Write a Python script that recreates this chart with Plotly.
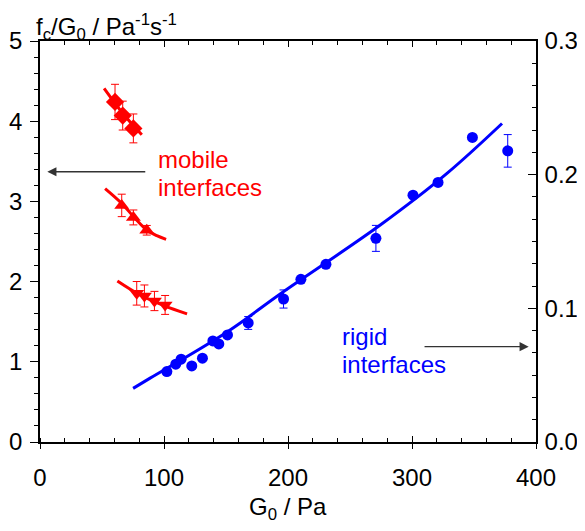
import plotly.graph_objects as go

# ---- data ----
# mobile interfaces (left axis), three series
dia_x = [60.5, 66.7, 75.3]
dia_y = [4.24, 4.07, 3.91]
dia_err = [0.22, 0.18, 0.18]
dia_fit_x = [51.7, 66.7, 82.1]
dia_fit_y = [4.41, 4.10, 3.83]

up_x = [65.9, 75.3, 86.1]
up_y = [2.95, 2.80, 2.64]
up_err = [0.14, 0.093, 0.06]
up_fit_x = [52.5, 65.9, 76.0, 86.1, 94.2, 101.7]
up_fit_y = [3.16, 2.975, 2.80, 2.643, 2.572, 2.527]

dn_x = [78.0, 84.2, 92.3, 100.9]
dn_y = [1.854, 1.821, 1.758, 1.709]
dn_err = [0.147, 0.137, 0.12, 0.118]
dn_fit_x = [62.4, 80.7, 100.0, 118.6]
dn_fit_y = [2.007, 1.833, 1.70, 1.597]

# rigid interfaces
rig_x = [102.3, 109.5, 113.8, 122.4, 131.0, 139.4, 144.2, 151.2, 167.9, 196.4,
         210.4, 230.6, 270.9, 300.8, 321.0, 348.7, 377.2]
rig_y = [0.878, 0.970, 1.032, 0.949, 1.045, 1.260, 1.223, 1.335, 1.484, 1.783,
         2.029, 2.215, 2.539, 3.078, 3.236, 3.797, 3.630]
rig_err = [0, 0, 0, 0, 0, 0, 0, 0, 0.08, 0.113,
           0, 0, 0.162, 0, 0, 0, 0.203]
rig_fit_x = [75.1, 88.8, 151.2, 193.7, 274.4, 328.2, 372.6]
rig_fit_y = [0.669, 0.796, 1.376, 1.846, 2.705, 3.349, 3.971]

x_ticks = [0, 100, 200, 300, 400]
y_ticks = [0, 1, 2, 3, 4, 5]
y2_ticks = [0.0, 0.1, 0.2, 0.3]

RED = "#FF0000"
BLUE = "#0000FF"
FONT = "Liberation Sans, Arial, sans-serif"
FS = 24

fig = go.Figure()

def err(vals, color):
    return dict(type="data", array=vals, visible=True, color=color, thickness=1, width=4)

# fit lines
for fx, fy, c in [(dia_fit_x, dia_fit_y, RED), (up_fit_x, up_fit_y, RED),
                  (dn_fit_x, dn_fit_y, RED), (rig_fit_x, rig_fit_y, BLUE)]:
    fig.add_trace(go.Scatter(x=fx, y=fy, mode="lines", line=dict(color=c, width=3, shape="spline"),
                             showlegend=False, hoverinfo="skip"))

fig.add_trace(go.Scatter(x=dia_x, y=dia_y, mode="markers", error_y=err(dia_err, RED),
                         marker=dict(symbol="diamond", size=14, color=RED), showlegend=False))
fig.add_trace(go.Scatter(x=up_x, y=up_y, mode="markers", error_y=err(up_err, RED),
                         marker=dict(symbol="triangle-up", size=13, color=RED), showlegend=False))
fig.add_trace(go.Scatter(x=dn_x, y=dn_y, mode="markers", error_y=err(dn_err, RED),
                         marker=dict(symbol="triangle-down", size=13, color=RED), showlegend=False))
fig.add_trace(go.Scatter(x=rig_x, y=rig_y, mode="markers", error_y=err(rig_err, BLUE),
                         marker=dict(symbol="circle", size=11, color=BLUE), showlegend=False))

# helper traces to instantiate extra axes
fig.add_trace(go.Scatter(x=[None], y=[None], xaxis="x2", yaxis="y", showlegend=False, hoverinfo="skip"))
fig.add_trace(go.Scatter(x=[None], y=[None], xaxis="x3", yaxis="y", showlegend=False, hoverinfo="skip"))
fig.add_trace(go.Scatter(x=[None], y=[None], xaxis="x", yaxis="y2", showlegend=False, hoverinfo="skip"))

tickfont = dict(family=FONT, size=FS, color="black")

fig.update_layout(
    width=577, height=515,
    margin=dict(l=32, r=49, t=33, b=81),
    paper_bgcolor="white", plot_bgcolor="white",
    font=dict(family=FONT, size=FS, color="black"),
    xaxis=dict(range=[0, 400], tickvals=x_ticks, showgrid=False, zeroline=False, automargin=False,
               showline=True, linecolor="black", linewidth=1.5,
               ticks="outside", ticklen=5, tickwidth=1.2, tickcolor="black",
               ticklabelstandoff=8, tickfont=tickfont,
               minor=dict(dtick=20, ticks="inside", ticklen=4, tickwidth=1, tickcolor="black", showgrid=False)),
    xaxis2=dict(range=[0, 400], overlaying="x", anchor="y", side="top", tickvals=x_ticks, automargin=False,
                showticklabels=False, showgrid=False, zeroline=False,
                showline=True, linecolor="black", linewidth=1.5,
                ticks="inside", ticklen=6, tickwidth=1.2, tickcolor="black",
                minor=dict(dtick=20, ticks="inside", ticklen=4, tickwidth=1, tickcolor="black", showgrid=False)),
    xaxis3=dict(range=[0, 400], overlaying="x", anchor="y", side="bottom", tickvals=x_ticks, automargin=False,
                showticklabels=False, showgrid=False, zeroline=False, showline=False,
                ticks="inside", ticklen=6, tickwidth=1.2, tickcolor="black"),
    yaxis=dict(range=[0, 5], tickvals=y_ticks, showgrid=False, zeroline=False, automargin=False,
               showline=True, linecolor="black", linewidth=1.5,
               ticks="outside", ticklen=8, tickwidth=1.2, tickcolor="black",
               ticklabelstandoff=3, tickfont=tickfont,
               minor=dict(dtick=0.2, ticks="outside", ticklen=4, tickwidth=1, tickcolor="black", showgrid=False)),
    yaxis2=dict(range=[0, 0.3], overlaying="y", anchor="x", side="right", tickvals=y2_ticks, automargin=False,
                tickformat=".1f", showgrid=False, zeroline=False,
                showline=True, linecolor="black", linewidth=1.5,
                ticks="inside", ticklen=8, tickwidth=1.2, tickcolor="black",
                ticklabelstandoff=2, tickfont=tickfont,
                minor=dict(dtick=0.1 / 6, ticks="inside", ticklen=4, tickwidth=1, tickcolor="black", showgrid=False)),
)

# axis titles
fig.add_annotation(text="G<sub>0</sub> / Pa", xref="paper", yref="paper", x=0.5, y=-0.165,
                   xanchor="center", yanchor="middle", showarrow=False,
                   font=dict(family=FONT, size=FS, color="black"))
fig.add_annotation(text="f<sub>c</sub>/G<sub>0</sub> / Pa<sup>-1</sup>s<sup>-1</sup>", xref="paper", yref="paper",
                   x=-0.012, y=1.082, xanchor="left", yanchor="top", showarrow=False,
                   font=dict(family=FONT, size=FS, color="black"))

# labels
for txt, y in [("mobile", 3.527), ("interfaces", 3.174)]:
    fig.add_annotation(text=txt, x=93.6, y=y, xref="x", yref="y", xanchor="left", yanchor="middle",
                       showarrow=False, font=dict(family=FONT, size=FS, color=RED))
for txt, y in [("rigid", 1.319), ("interfaces", 0.964)]:
    fig.add_annotation(text=txt, x=241.6, y=y, xref="x", yref="y", xanchor="left", yanchor="middle",
                       showarrow=False, font=dict(family=FONT, size=FS, color=BLUE))

# arrows
fig.add_annotation(x=5.9, y=3.37, ax=86.1, ay=3.37, xref="x", yref="y", axref="x", ayref="y",
                   text="", showarrow=True, arrowhead=2, arrowsize=1.3, arrowwidth=1.4, arrowcolor="#333333")
fig.add_annotation(x=394.1, y=1.189, ax=308.9, ay=1.189, xref="x", yref="y", axref="x", ayref="y",
                   text="", showarrow=True, arrowhead=2, arrowsize=1.3, arrowwidth=1.4, arrowcolor="#333333")

fig.write_html("out.html")
